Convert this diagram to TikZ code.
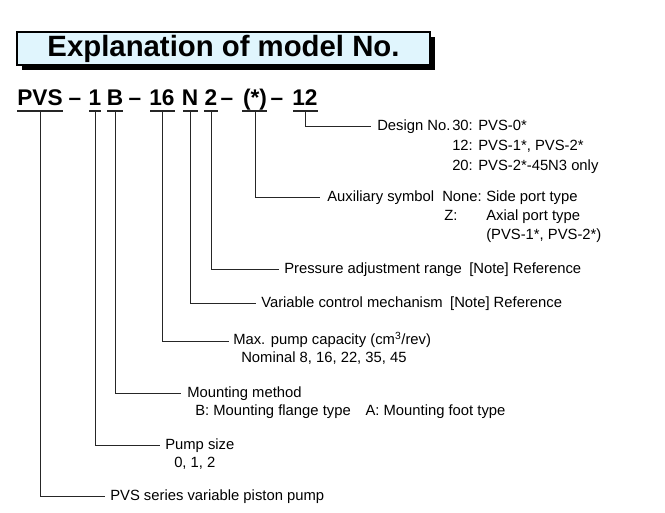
\documentclass[tikz,border=0pt]{standalone}
\usepackage{fontspec}
\setmainfont{Liberation Sans}
\usetikzlibrary{arrows}

\begin{document}
\begin{tikzpicture}%
        [x=0.75pt, y=-0.75pt,
        lead/.style={color=black!85, line width=0.6pt},
        txt/.style={anchor=base west, inner sep=0pt, font=\fontsize{11.1}{13}\selectfont},
        code/.style={anchor=base, inner sep=0pt, font=\fontsize{17}{20}\bfseries\selectfont},
        uline/.style={color=black!85, line width=0.8pt}]

    \useasboundingbox (0,0) rectangle (665,513);

    %% Title
    \fill[black] (22,37) rectangle (435,70);
    \draw[fill=cyan!12, line width=0.8pt] (17,32) rectangle (430,65);
    \node[inner sep=0pt, font=\fontsize{22}{26}\bfseries\selectfont] (title) at (223.5,48.5) {Explanation of model No.};

    %% Model code
    \node[code] (pvs) at (40,106) {PVS};
    \node[code] at (75,106) {--};
    \node[code] (size) at (95,106) {1};
    \node[code] (mount) at (115,106) {B};
    \node[code] at (135,106) {--};
    \node[code] (cap) at (162,106) {16};
    \node[code] (ctrl) at (190,106) {N};
    \node[code] (press) at (211,106) {2};
    \node[code] at (227,106) {--};
    \node[code] (aux) at (255,106) {(*)};
    \node[code] at (277,106) {--};
    \node[code] (design) at (305,106) {12};

    %% Underlines
    \foreach \a/\b in {17/63, 89/101, 107/123, 150/175, 183/198, 204/218, 242/267, 293/318}
        \draw[uline] (\a,111) -- (\b,111);

    %% Explanations
    \coordinate (d0) at (305,111);
    \node[txt] (d1) at (377,131) {Design No.};
    \node[txt] at (452,131) {30: PVS-0*};
    \node[txt] at (452,151) {12: PVS-1*, PVS-2*};
    \node[txt] at (452,171) {20: PVS-2*-45N3 only};
    \draw[lead] (d0) |- (371,126);

    \coordinate (a0) at (255,111);
    \node[txt] (a1) at (327,202) {Auxiliary symbol};
    \node[txt] at (442,202) {None:};
    \node[txt] at (486,202) {Side port type};
    \node[txt] at (444,221) {Z:};
    \node[txt] at (486,221) {Axial port type};
    \node[txt] at (486,240) {(PVS-1*, PVS-2*)};
    \draw[lead] (a0) |- (320,197);

    \coordinate (p0) at (211,111);
    \node[txt] (p1) at (284,274) {Pressure adjustment range\enspace [Note] Reference};
    \draw[lead] (p0) |- (279,269);

    \coordinate (n0) at (190,111);
    \node[txt] (n1) at (261,308) {Variable control mechanism\enspace [Note] Reference};
    \draw[lead] (n0) |- (256,303);

    \coordinate (c0) at (162,111);
    \node[txt] (c1) at (233,345) {Max. pump capacity (cm\textsuperscript{3}/rev)};
    \node[txt] at (241,363) {Nominal 8, 16, 22, 35, 45};
    \draw[lead] (c0) |- (229,341);

    \coordinate (m0) at (115,111);
    \node[txt] (m1) at (187,398) {Mounting method};
    \node[txt] at (195,416) {B: Mounting flange type\quad A: Mounting foot type};
    \draw[lead] (m0) |- (181,393);

    \coordinate (s0) at (95,111);
    \node[txt] (s1) at (165,450) {Pump size};
    \node[txt] at (174,468) {0, 1, 2};
    \draw[lead] (s0) |- (160,445);

    \coordinate (v0) at (40,111);
    \node[txt] (v1) at (110,501) {PVS series variable piston pump};
    \draw[lead] (v0) |- (105,496);
\end{tikzpicture}
\end{document}
